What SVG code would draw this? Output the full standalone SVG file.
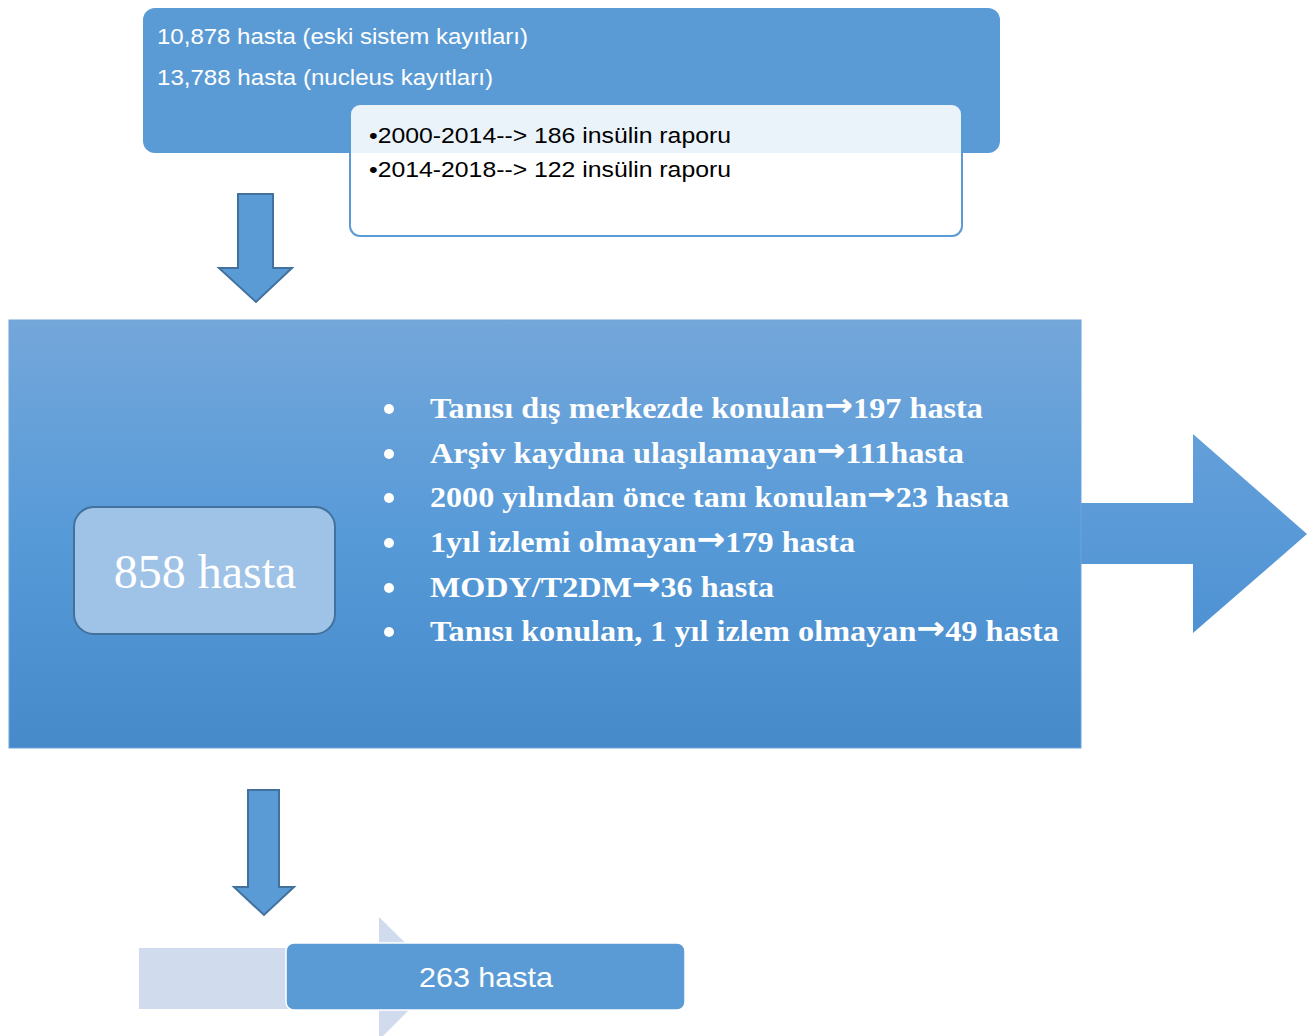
<svg xmlns="http://www.w3.org/2000/svg" width="1313" height="1036" viewBox="0 0 1313 1036">
<defs>
<linearGradient id="bigGrad" x1="0" y1="0" x2="0" y2="1">
<stop offset="0" stop-color="#74a7da"/>
<stop offset="0.5" stop-color="#579ad8"/>
<stop offset="1" stop-color="#468aca"/>
</linearGradient>
<linearGradient id="arrGrad" gradientUnits="userSpaceOnUse" x1="0" y1="434" x2="0" y2="634">
<stop offset="0" stop-color="#64a0da"/>
<stop offset="1" stop-color="#4e92d4"/>
</linearGradient>
<style>
.cal{font-family:"Liberation Sans","Noto Sans",sans-serif;}
.tnr{font-family:"Liberation Serif","DejaVu Serif",serif;}
.w{fill:#ffffff;}
.k{fill:#000000;}
.darr{fill:#5b9bd5;stroke:#41719c;stroke-width:2;stroke-linejoin:miter;}
.li{font-family:"Liberation Serif","DejaVu Serif",serif;font-weight:bold;font-size:30px;fill:#ffffff;}
.ar{font-family:"DejaVu Sans",sans-serif;font-weight:bold;font-size:32px;}
</style>
</defs>
<rect width="1313" height="1036" fill="#ffffff"/>

<g id="source-box">
<rect x="143" y="8" width="857" height="145" rx="12" fill="#5b9bd5"/>
<text class="cal w" x="157" y="44" font-size="22" textLength="371" lengthAdjust="spacingAndGlyphs">10,878 hasta (eski sistem kayıtları)</text>
<text class="cal w" x="157" y="85" font-size="22" textLength="336" lengthAdjust="spacingAndGlyphs">13,788 hasta (nucleus kayıtları)</text>
</g>

<g id="report-box">
<rect x="350" y="104" width="612" height="132" rx="10" fill="#ffffff" fill-opacity="0.88" stroke="#5b9bd5" stroke-width="2"/>
<text class="cal k" x="369" y="143" font-size="22" textLength="362" lengthAdjust="spacingAndGlyphs">•2000-2014--&gt; 186 insülin raporu</text>
<text class="cal k" x="369" y="177" font-size="22" textLength="362" lengthAdjust="spacingAndGlyphs">•2014-2018--&gt; 122 insülin raporu</text>
</g>

<g id="connectors">
<polygon class="darr" points="238,194 273,194 273,268 292,268 256,302 219,268 238,268"/>
<polygon class="darr" points="248,790 279,790 279,887 294,887 264,915 234,887 248,887"/>
</g>

<g id="exclusion-block">
<polygon points="1081,503 1193,503 1193,434 1307,534 1193,633 1193,564 1081,564" fill="url(#arrGrad)"/>
<rect x="9" y="320" width="1072" height="428" fill="url(#bigGrad)" stroke="#6ea3d9" stroke-width="1"/>
<g id="list">
<circle cx="389" cy="409" r="5" fill="#ffffff"/>
<circle cx="389" cy="454" r="5" fill="#ffffff"/>
<circle cx="389" cy="498" r="5" fill="#ffffff"/>
<circle cx="389" cy="543" r="5" fill="#ffffff"/>
<circle cx="389" cy="588" r="5" fill="#ffffff"/>
<circle cx="389" cy="632" r="5" fill="#ffffff"/>
<text class="li" x="430" y="418" textLength="553" lengthAdjust="spacingAndGlyphs">Tanısı dış merkezde konulan<tspan class="ar" dy="-2">→</tspan><tspan dy="2">197 hasta</tspan></text>
<text class="li" x="430" y="463" textLength="534" lengthAdjust="spacingAndGlyphs">Arşiv kaydına ulaşılamayan<tspan class="ar" dy="-2">→</tspan><tspan dy="2">111hasta</tspan></text>
<text class="li" x="430" y="507" textLength="579" lengthAdjust="spacingAndGlyphs">2000 yılından önce tanı konulan<tspan class="ar" dy="-2">→</tspan><tspan dy="2">23 hasta</tspan></text>
<text class="li" x="430" y="552" textLength="425" lengthAdjust="spacingAndGlyphs">1yıl izlemi olmayan<tspan class="ar" dy="-2">→</tspan><tspan dy="2">179 hasta</tspan></text>
<text class="li" x="430" y="597" textLength="344" lengthAdjust="spacingAndGlyphs">MODY/T2DM<tspan class="ar" dy="-2">→</tspan><tspan dy="2">36 hasta</tspan></text>
<text class="li" x="430" y="641" textLength="629" lengthAdjust="spacingAndGlyphs">Tanısı konulan, 1 yıl izlem olmayan<tspan class="ar" dy="-2">→</tspan><tspan dy="2">49 hasta</tspan></text>
</g>
</g>

<g id="node-858">
<rect x="74" y="507" width="261" height="127" rx="20" fill="#9fc3e7" stroke="#41719c" stroke-width="2"/>
<text class="tnr w" x="205" y="588" font-size="48" text-anchor="middle">858 hasta</text>
</g>

<g id="node-263">
<polygon points="139,948 379,948 379,917 441,978 379,1040 379,1009 139,1009" fill="#d0dcee"/>
<rect x="286" y="943" width="399" height="67" rx="8" fill="#5b9bd5" stroke="#ffffff" stroke-width="1.5"/>
<text class="cal w" x="486" y="987" font-size="28" text-anchor="middle" textLength="134" lengthAdjust="spacingAndGlyphs">263 hasta</text>
</g>
</svg>
